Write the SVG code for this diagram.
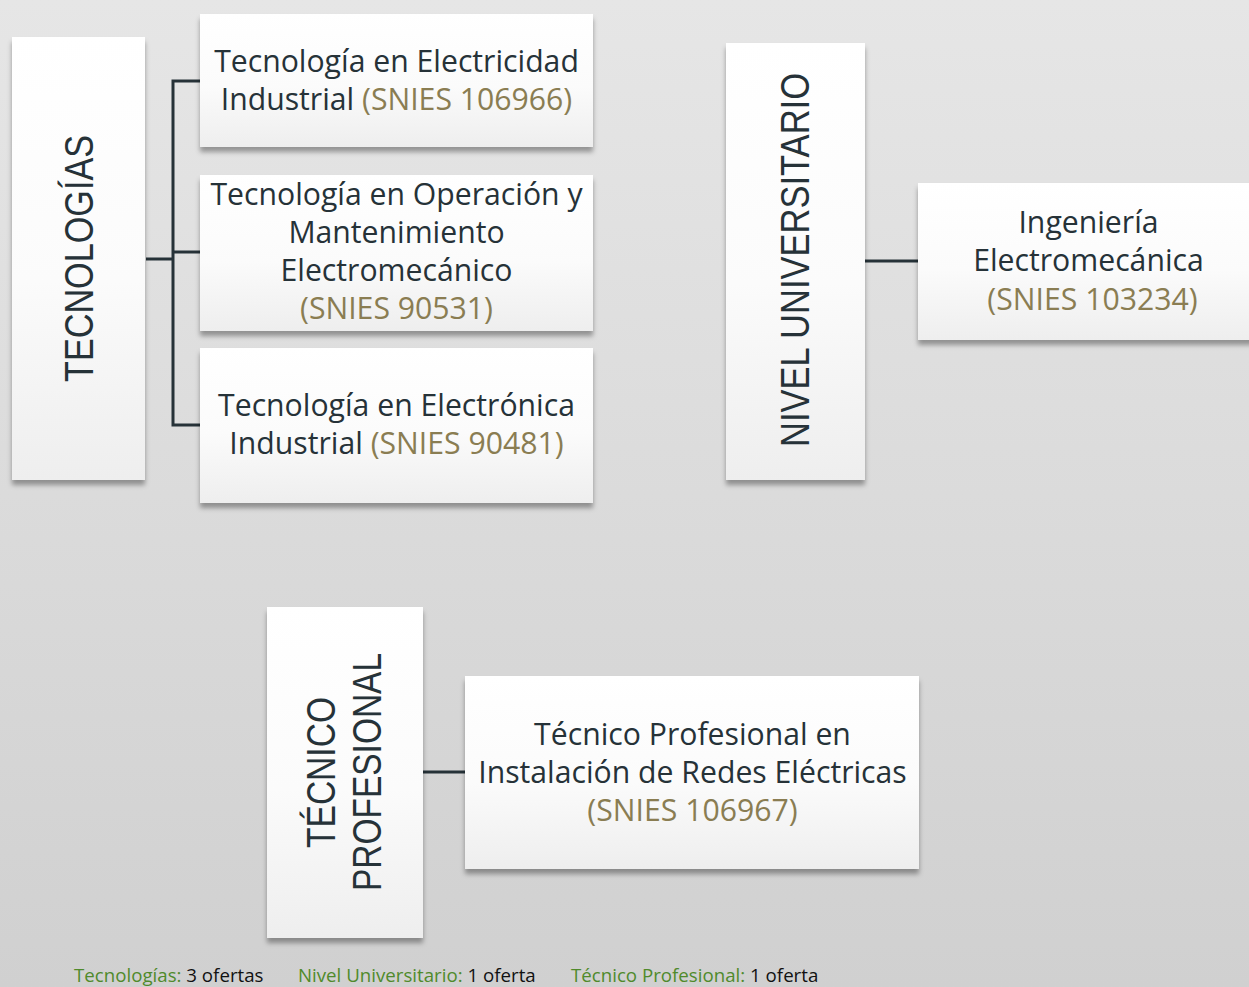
<svg xmlns="http://www.w3.org/2000/svg" width="1249" height="987" viewBox="0 0 1249 987">
  <defs>
    <linearGradient id="bg" x1="0" y1="0" x2="0" y2="1">
      <stop offset="0" stop-color="#e6e6e6"/>
      <stop offset="1" stop-color="#d0d0d0"/>
    </linearGradient>
    <linearGradient id="boxfill" x1="0" y1="0" x2="0" y2="1">
      <stop offset="0" stop-color="#ffffff"/>
      <stop offset="0.55" stop-color="#fbfbfb"/>
      <stop offset="1" stop-color="#eeeeee"/>
    </linearGradient>
    <filter id="shadow" x="-10%" y="-10%" width="120%" height="125%">
      <feDropShadow dx="0" dy="5" stdDeviation="2.5" flood-color="#000" flood-opacity="0.35"/>
    </filter>
  </defs>
  <style>
    .box { fill: url(#boxfill); filter: url(#shadow); }
    .t { font-family: "Open Sans", "Noto Sans", "Liberation Sans", sans-serif; font-size: 30.2px; fill: #263238; text-anchor: middle; }
    .s { fill: #8a7d52; }
    .v { font-family: "Liberation Sans", Arial, sans-serif; font-size: 41px; fill: #263238; text-anchor: middle; }
    .conn { stroke: #263238; stroke-width: 3; fill: none; }
    .leg { font-family: "Open Sans", "Noto Sans", "Liberation Sans", sans-serif; font-size: 18.7px; fill: #111111; }
    .lg { fill: #4f8a2b; }
  </style>

  <rect x="0" y="0" width="1249" height="987" fill="url(#bg)"/>

  <g id="connectors">
    <polyline class="conn" points="146,259 173,259"/>
    <polyline class="conn" points="200,81 173,81 173,425 200,425"/>
    <polyline class="conn" points="173,252 200,252"/>
    <polyline class="conn" points="865,261 918,261"/>
    <polyline class="conn" points="423,772 465,772"/>
  </g>

  <g id="node-tecnologias">
    <rect class="box" x="12" y="37" width="133" height="443"/>
    <text class="v" transform="translate(93,258.5) rotate(-90)" textLength="247" lengthAdjust="spacingAndGlyphs">TECNOLOGÍAS</text>
  </g>

  <g id="node-electricidad">
    <rect class="box" x="200" y="14" width="393" height="133"/>
    <text class="t" x="396.5" y="72">Tecnología en Electricidad</text>
    <text class="t" x="396.5" y="110">Industrial <tspan class="s">(SNIES 106966)</tspan></text>
  </g>

  <g id="node-operacion">
    <rect class="box" x="200" y="175" width="393" height="156"/>
    <text class="t" x="396.5" y="205">Tecnología en Operación y</text>
    <text class="t" x="396.5" y="243">Mantenimiento</text>
    <text class="t" x="396.5" y="281">Electromecánico</text>
    <text class="t s" x="396.5" y="319">(SNIES 90531)</text>
  </g>

  <g id="node-electronica">
    <rect class="box" x="200" y="348" width="393" height="155"/>
    <text class="t" x="396.5" y="416">Tecnología en Electrónica</text>
    <text class="t" x="396.5" y="454">Industrial <tspan class="s">(SNIES 90481)</tspan></text>
  </g>

  <g id="node-nivel-universitario">
    <rect class="box" x="726" y="43" width="139" height="437"/>
    <text class="v" transform="translate(808.5,260) rotate(-90)" textLength="374" lengthAdjust="spacingAndGlyphs">NIVEL UNIVERSITARIO</text>
  </g>

  <g id="node-ingenieria">
    <rect class="box" x="918" y="183" width="345" height="157"/>
    <text class="t" x="1088.5" y="233">Ingeniería</text>
    <text class="t" x="1088.5" y="271">Electromecánica</text>
    <text class="t s" x="1092.5" y="310">(SNIES 103234)</text>
  </g>

  <g id="node-tecnico-profesional">
    <rect class="box" x="267" y="607" width="156" height="331"/>
    <text class="v" transform="translate(335,772.5) rotate(-90)" textLength="151" lengthAdjust="spacingAndGlyphs">TÉCNICO</text>
    <text class="v" transform="translate(381,772) rotate(-90)" textLength="238" lengthAdjust="spacingAndGlyphs">PROFESIONAL</text>
  </g>

  <g id="node-instalacion">
    <rect class="box" x="465" y="676" width="454" height="193"/>
    <text class="t" x="692.5" y="745">Técnico Profesional en</text>
    <text class="t" x="692.5" y="783">Instalación de Redes Eléctricas</text>
    <text class="t s" x="692.5" y="821">(SNIES 106967)</text>
  </g>

  <g id="legend">
    <text class="leg" x="74" y="982"><tspan class="lg">Tecnologías:</tspan> 3 ofertas</text>
    <text class="leg" x="298" y="982"><tspan class="lg">Nivel Universitario:</tspan> 1 oferta</text>
    <text class="leg" x="571" y="982"><tspan class="lg">Técnico Profesional:</tspan> 1 oferta</text>
  </g>
</svg>
